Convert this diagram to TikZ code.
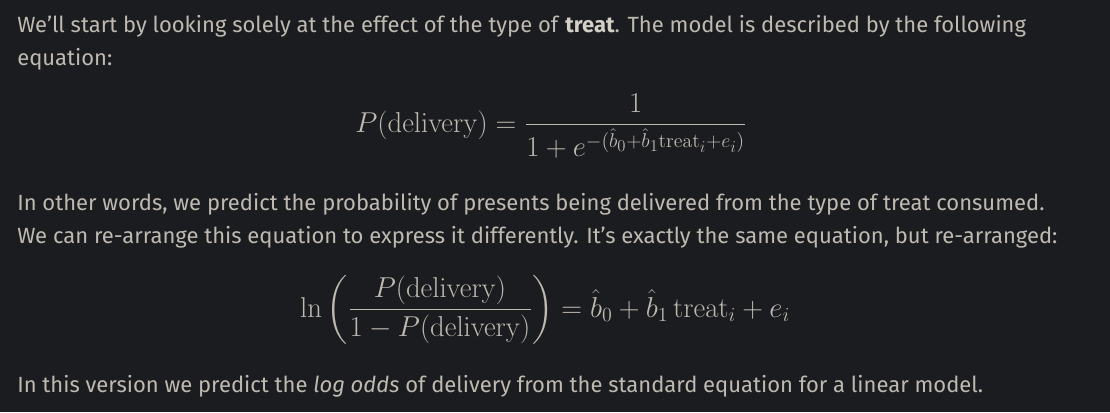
\documentclass[tikz,border=0pt]{standalone}
\usepackage{amsmath}
\usepackage{graphicx}
\usepackage[no-math]{fontspec}
\setmainfont{Fira Sans}
\usepackage{tikz}
\usetikzlibrary{positioning}
\definecolor{pagebg}{RGB}{27, 28, 31}
\definecolor{bodytext}{RGB}{190, 186, 178}
\definecolor{strongtext}{RGB}{212, 208, 200}
\newcommand{\eqbig}[1]{\scalebox{1.04}{$\displaystyle #1$}}
\tikzset{
  textline/.style={anchor=base west, inner sep=0pt, text=bodytext, font=\fontsize{16.5}{24}\selectfont},
  mathline/.style={anchor=base, inner sep=0pt, text=bodytext, font=\huge}
}

\begin{document}
\begin{tikzpicture}[x=0.75pt, y=-0.75pt]
        % Page background
        \fill[pagebg] (0,0) rectangle (1110,412);
        \useasboundingbox (0,0) rectangle (1110,412);

        % First paragraph
        \node[textline] (intro1) at (17,32) {We’ll start by looking solely at the effect of the type of \textbf{\color{strongtext}treat}. The model is described by the following};
        \node[textline] (intro2) at (17,65) {equation:};

        % Logistic model
        \node[mathline] (eqprob) at (551,132) {\eqbig{P(\mathrm{delivery}) = \frac{1}{1+e^{-(\hat{b}_0+\hat{b}_1\mathrm{treat}_i+e_i)}}}};

        % Second paragraph
        \node[textline] (words1) at (17,210) {In other words, we predict the probability of presents being delivered from the type of treat consumed.};
        \node[textline] (words2) at (17,243) {We can re-arrange this equation to express it differently. It’s exactly the same equation, but re-arranged:};

        % Log odds form
        \node[mathline] (eqlogit) at (545,317) {\eqbig{\ln\left(\frac{P(\mathrm{delivery})}{1-P(\mathrm{delivery})}\right) = \hat{b}_0 + \hat{b}_1\,\mathrm{treat}_i + e_i}};

        % Closing line
        \node[textline] (outro) at (17,392) {In this version we predict the \textit{log odds} of delivery from the standard equation for a linear model.};
\end{tikzpicture}
\end{document}
